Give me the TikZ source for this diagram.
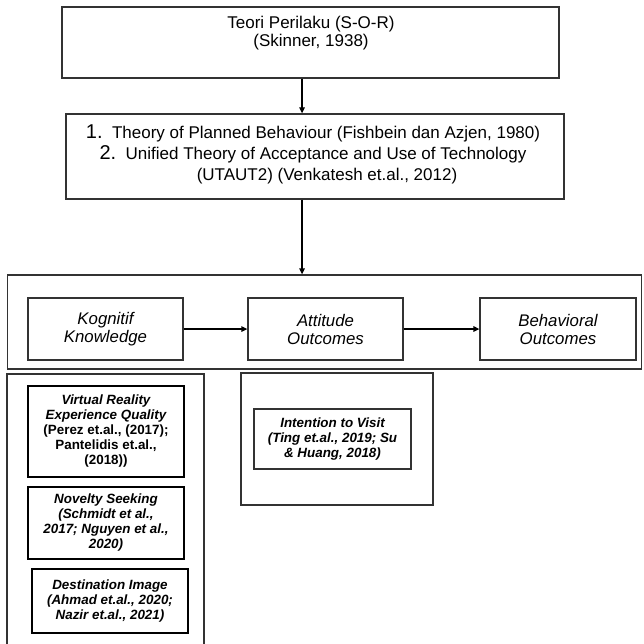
\documentclass[tikz,border=0pt]{standalone}
\usepackage{fontspec}
\setmainfont{Liberation Sans}
\usetikzlibrary{arrows.meta}

\begin{document}
\begin{tikzpicture}[x=1pt,y=-1pt,>={Triangle[length=6pt,width=5.5pt]},
  frame/.style={draw=black!80,line width=1.3pt,inner sep=0pt},
  stage/.style={frame,minimum width=155pt,minimum height=62pt,align=center,font=\fontsize{16.8}{18}\selectfont\itshape},
  factor/.style={draw=black,line width=2.6pt,minimum width=156pt,inner sep=0pt,align=center,font=\fontsize{13.4}{15}\selectfont\bfseries\itshape},
  title/.style={align=center,inner sep=0pt,font=\fontsize{17}{18}\selectfont}]
\useasboundingbox (0,0) rectangle (643,644);
\node[frame,minimum width=497pt,minimum height=71pt] (sor) at (310.5,42.5) {};
\node[title] (sortext) at (311,33) {Teori Perilaku (S-O-R)\\(Skinner, 1938)};
\node[frame,minimum width=498pt,minimum height=85pt] (theory) at (315,156.5) {};
\node[title,font=\fontsize{17}{21}\selectfont] (theorytext) at (313,154) {{\fontsize{20}{21}\selectfont 1.}\ \ Theory of Planned Behaviour (Fishbein dan Azjen, 1980)\\{\fontsize{20}{21}\selectfont 2.}\ \ Unified Theory of Acceptance and Use of Technology\\\hspace*{28pt}(UTAUT2) (Venkatesh et.al., 2012)};
\node[frame,minimum width=634pt,minimum height=94pt] (panel) at (324.5,322) {};
\node[stage] (kog) at (105.5,329) {Kognitif\\Knowledge};
\node[stage] (att) at (325.5,329) {Attitude\\Outcomes};
\node[stage,minimum width=156pt] (beh) at (558,329) {Behavioral\\Outcomes};
\node[frame,minimum width=197pt,minimum height=292pt] (leftpanel) at (105.5,520) {};
\node[frame,minimum width=192pt,minimum height=132pt] (midpanel) at (337,439) {};
\node[factor,minimum height=91pt] (vrq) at (106,431.5) {Virtual Reality\\Experience Quality\\{\upshape (Perez et.al., (2017);}\\{\upshape Pantelidis et.al.,}\\{\upshape (2018))}};
\node[factor,minimum height=72pt] (novelty) at (106,523) {Novelty Seeking\\(Schmidt et al.,\\2017; Nguyen et al.,\\2020)};
\node[factor,minimum height=64pt] (image) at (110,601) {Destination Image\\(Ahmad et.al., 2020;\\Nazir et.al., 2021)};
\node[frame,minimum width=157pt,minimum height=60pt,align=center,font=\fontsize{13.4}{15}\selectfont\bfseries\itshape] (visit) at (332.5,439) {Intention to Visit\\(Ting et.al., 2019; Su\\\& Huang, 2018)};
\coordinate (axis) at (302,0);
\draw[->,line width=1.3pt] (sor.south -| axis) -- (theory.north -| axis);
\draw[->,line width=1.3pt] (theory.south -| axis) -- (panel.north -| axis);
\draw[->,line width=1.3pt] (kog) -- (att);
\draw[->,line width=1.3pt] (att) -- (beh);
\end{tikzpicture}
\end{document}
